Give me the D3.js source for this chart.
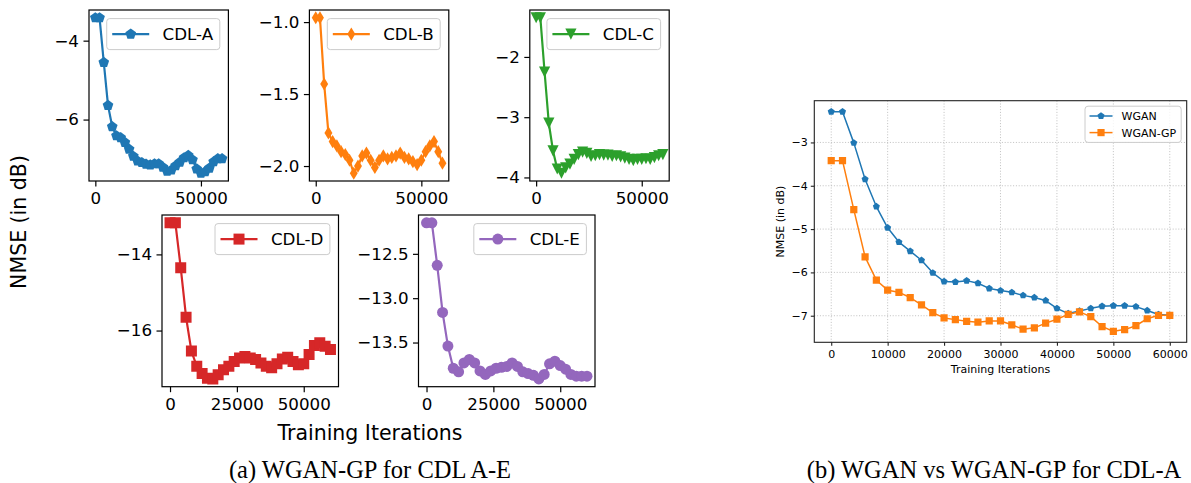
<!DOCTYPE html>
<html>
<head>
<meta charset="utf-8">
<script src="https://cdn.jsdelivr.net/npm/d3@7"></script>
<style>
  body { margin: 0; background: #fff; }
  svg { display: block; }
</style>
</head>
<body>
<svg id="fig" width="1191" height="483"></svg>
<script>
// Training iterations at which NMSE was evaluated
const iterations = [0, 2000, 4000, 6000, 8000, 10000, 12000, 14000, 16000, 18000, 20000,
  22000, 24000, 26000, 28000, 30000, 32000, 34000, 36000, 38000, 40000,
  42000, 44000, 46000, 48000, 50000, 52000, 54000, 56000, 58000, 60000];

// NMSE (dB) of WGAN-GP on each CDL channel model
const cdlA = [-3.42, -3.42, -4.55, -5.64, -6.18, -6.41, -6.46, -6.58, -6.75, -6.93, -7.05,
  -7.09, -7.13, -7.15, -7.12, -7.12, -7.21, -7.31, -7.28, -7.17, -7.08,
  -6.97, -6.91, -7.02, -7.25, -7.36, -7.32, -7.23, -7.07, -6.99, -6.99];
const cdlB = [-0.97, -0.97, -1.43, -1.77, -1.83, -1.86, -1.90, -1.92, -1.96, -2.05, -2.00,
  -1.93, -1.91, -1.96, -2.01, -1.96, -1.93, -1.95, -1.94, -1.93, -1.91,
  -1.94, -1.95, -1.97, -1.99, -1.96, -1.90, -1.86, -1.83, -1.90, -1.98];
const cdlC = [-1.35, -1.35, -2.25, -3.10, -3.56, -3.86, -3.93, -3.84, -3.78, -3.70, -3.62,
  -3.58, -3.60, -3.65, -3.64, -3.62, -3.63, -3.63, -3.65, -3.64, -3.66,
  -3.68, -3.70, -3.72, -3.70, -3.70, -3.69, -3.70, -3.67, -3.64, -3.62];
const cdlD = [-13.17, -13.17, -14.35, -15.65, -16.54, -16.94, -17.13, -17.25, -17.27, -17.16, -17.03,
  -16.94, -16.81, -16.72, -16.68, -16.72, -16.76, -16.85, -16.94, -16.98, -16.87,
  -16.75, -16.70, -16.81, -16.90, -16.87, -16.63, -16.39, -16.32, -16.41, -16.50];
const cdlE = [-12.15, -12.15, -12.63, -13.16, -13.54, -13.79, -13.83, -13.73, -13.69, -13.73, -13.82,
  -13.86, -13.82, -13.79, -13.78, -13.77, -13.73, -13.77, -13.83, -13.85, -13.87,
  -13.91, -13.86, -13.74, -13.71, -13.76, -13.80, -13.86, -13.88, -13.88, -13.88];

// NMSE (dB) on CDL-A: plain WGAN vs WGAN-GP
const wgan = [-2.29, -2.29, -3.01, -3.85, -4.48, -4.97, -5.30, -5.51, -5.72, -6.01, -6.21,
  -6.22, -6.19, -6.25, -6.37, -6.42, -6.46, -6.53, -6.58, -6.65, -6.83,
  -6.95, -6.89, -6.83, -6.78, -6.77, -6.77, -6.79, -6.88, -6.97, -6.99];
const wganGp = cdlA;

// Tick values
const xTicksTop = [0, 50000];
const xTicksBottom = [0, 25000, 50000];
const xTicksWide = [0, 10000, 20000, 30000, 40000, 50000, 60000];
const yTicksA = [-4, -6];
const yTicksB = [-1.0, -1.5, -2.0];
const yTicksC = [-2, -3, -4];
const yTicksD = [-14, -16];
const yTicksE = [-12.5, -13.0, -13.5];
const yTicksWide = [-3, -4, -5, -6, -7];

// Labels
const seriesNames = ["CDL-A", "CDL-B", "CDL-C", "CDL-D", "CDL-E"];
const compareNames = ["WGAN", "WGAN-GP"];
const yLabel = "NMSE (in dB)";
const xLabel = "Training Iterations";
const captionA = "(a) WGAN-GP for CDL A-E";
const captionB = "(b) WGAN vs WGAN-GP for CDL-A";

const FONT = "'DejaVu Sans', sans-serif";
const SERIF = "'Liberation Serif', 'Times New Roman', serif";
const svg = d3.select("#fig");
svg.append("rect").attr("width", 1191).attr("height", 483).attr("fill", "#fff");

// Marker shapes centred on the data point; r is half the marker extent
const markerPath = {
  pentagon: r => {
    const pts = d3.range(5).map(i => {
      const a = -Math.PI / 2 + i * 2 * Math.PI / 5;
      return [r * Math.cos(a), r * Math.sin(a)];
    });
    return "M" + pts.map(p => p.join(",")).join("L") + "Z";
  },
  thinDiamond: r => `M0,${-r}L${r * 0.6},0L0,${r}L${-r * 0.6},0Z`,
  triDown: r => `M0,${r}L${-r},${-r}L${r},${-r}Z`,
  square: r => `M${-r},${-r}H${r}V${r}H${-r}Z`,
  circle: r => `M${r},0A${r},${r} 0 1,1 ${-r},0A${r},${r} 0 1,1 ${r},0Z`
};

let clipId = 0;

function drawPanel(cfg) {
  const g = svg.append("g").attr("transform", `translate(${cfg.x},${cfg.y})`);
  const x = d3.scaleLinear().domain([-3000, 63000]).range([0, cfg.w]);
  const ext = d3.extent(cfg.series.flatMap(s => s.values));
  const pad = (ext[1] - ext[0]) * 0.05;
  const y = d3.scaleLinear().domain([ext[0] - pad, ext[1] + pad]).range([cfg.h, 0]);

  // dotted grid
  if (cfg.grid) {
    const gg = g.append("g");
    cfg.xTicks.forEach(t => gg.append("line")
      .attr("x1", x(t)).attr("x2", x(t)).attr("y1", 0).attr("y2", cfg.h)
      .attr("stroke", "#b0b0b0").attr("stroke-width", 0.8).attr("stroke-dasharray", "1,1.8"));
    cfg.yTicks.forEach(t => gg.append("line")
      .attr("y1", y(t)).attr("y2", y(t)).attr("x1", 0).attr("x2", cfg.w)
      .attr("stroke", "#b0b0b0").attr("stroke-width", 0.8).attr("stroke-dasharray", "1,1.8"));
  }

  const id = "clip" + (clipId++);
  g.append("clipPath").attr("id", id).append("rect").attr("width", cfg.w).attr("height", cfg.h);
  const plot = g.append("g").attr("clip-path", `url(#${id})`);

  cfg.series.forEach(s => {
    const line = d3.line().x((d, i) => x(iterations[i])).y(d => y(d));
    plot.append("path").datum(s.values).attr("d", line)
      .attr("fill", "none").attr("stroke", s.color).attr("stroke-width", cfg.lw)
      .attr("stroke-linejoin", "round");
    plot.append("g").selectAll("path").data(s.values).enter().append("path")
      .attr("transform", (d, i) => `translate(${x(iterations[i])},${y(d)})`)
      .attr("d", markerPath[s.marker](s.ms))
      .attr("fill", s.color);
  });

  // axes
  const xa = g.append("g").attr("transform", `translate(0,${cfg.h})`)
    .call(d3.axisBottom(x).tickValues(cfg.xTicks).tickFormat(d3.format("d"))
      .tickSize(cfg.tick).tickPadding(cfg.padX).tickSizeOuter(0));
  const ya = g.append("g")
    .call(d3.axisLeft(y).tickValues(cfg.yTicks).tickFormat(d3.format(cfg.yFmt))
      .tickSize(cfg.tick).tickPadding(cfg.padY).tickSizeOuter(0));
  [xa, ya].forEach(a => {
    a.select(".domain").remove();
    a.selectAll("line").attr("stroke", cfg.axisColor).attr("stroke-width", cfg.spineW);
    a.selectAll("text").attr("font-family", FONT).attr("font-size", cfg.fs).attr("fill", "#000");
  });

  // spines
  g.append("rect").attr("width", cfg.w).attr("height", cfg.h)
    .attr("fill", "none").attr("stroke", cfg.axisColor).attr("stroke-width", cfg.spineW);

  // legend (upper right)
  const L = cfg.legend;
  const lg = g.append("g");
  const texts = cfg.series.map((s, i) => lg.append("text")
    .attr("font-family", FONT).attr("font-size", L.fs).text(s.name));
  const tw = d3.max(texts, t => t.node().getComputedTextLength());
  const bw = L.padL + L.handle + L.gap + tw + L.padR;
  const bh = L.rowH * cfg.series.length + L.padV * 2;
  const bx = cfg.w - L.inset - bw, by = L.inset;
  lg.insert("rect", "text").attr("x", bx).attr("y", by).attr("width", bw).attr("height", bh)
    .attr("rx", 3).attr("ry", 3)
    .attr("fill", "rgba(255,255,255,0.8)").attr("stroke", "#cccccc").attr("stroke-width", 1);
  cfg.series.forEach((s, i) => {
    const cy = by + L.padV + L.rowH * (i + 0.5);
    const hx = bx + L.padL;
    lg.append("line").attr("x1", hx).attr("x2", hx + L.handle).attr("y1", cy).attr("y2", cy)
      .attr("stroke", s.color).attr("stroke-width", cfg.lw);
    lg.append("path").attr("transform", `translate(${hx + L.handle / 2},${cy})`)
      .attr("d", markerPath[s.marker](s.ms)).attr("fill", s.color);
    texts[i].attr("x", hx + L.handle + L.gap).attr("y", cy).attr("dy", "0.36em").raise();
  });
}

// ----- (a) grid of small panels -----
const smallLegend = { fs: 16.7, padL: 5.5, handle: 37, gap: 13.4, padR: 6.6, padV: 3.5, rowH: 24, inset: 8.6 };
const small = {
  w: 139.4, h: 171, lw: 2.2, fs: 16.7, tick: 5.5, padX: 5.5, padY: 4.5,
  axisColor: "#000", spineW: 1.2, grid: false, legend: smallLegend
};
const tab = { blue: "#1f77b4", orange: "#ff7f0e", green: "#2ca02c", red: "#d62728", purple: "#9467bd" };

drawPanel(Object.assign({}, small, {
  x: 89, y: 10, xTicks: xTicksTop, yTicks: yTicksA, yFmt: "d",
  series: [{ name: seriesNames[0], values: cdlA, color: tab.blue, marker: "pentagon", ms: 5.6 }]
}));
drawPanel(Object.assign({}, small, {
  x: 309.4, y: 10, xTicks: xTicksTop, yTicks: yTicksB, yFmt: ".1f",
  series: [{ name: seriesNames[1], values: cdlB, color: tab.orange, marker: "thinDiamond", ms: 6.6 }]
}));
drawPanel(Object.assign({}, small, {
  x: 529.8, y: 10, xTicks: xTicksTop, yTicks: yTicksC, yFmt: "d",
  series: [{ name: seriesNames[2], values: cdlC, color: tab.green, marker: "triDown", ms: 5.6 }]
}));
drawPanel(Object.assign({}, small, {
  x: 162, y: 215, w: 176.5, h: 171.7, xTicks: xTicksBottom, yTicks: yTicksD, yFmt: "d",
  series: [{ name: seriesNames[3], values: cdlD, color: tab.red, marker: "square", ms: 5.5 }]
}));
drawPanel(Object.assign({}, small, {
  x: 418.5, y: 215, w: 176.5, h: 171.7, xTicks: xTicksBottom, yTicks: yTicksE, yFmt: ".1f",
  series: [{ name: seriesNames[4], values: cdlE, color: tab.purple, marker: "circle", ms: 5.5 }]
}));

svg.append("text").attr("transform", "translate(25.5,222) rotate(-90)")
  .attr("text-anchor", "middle").attr("font-family", FONT).attr("font-size", 20.5).text(yLabel);
svg.append("text").attr("x", 370).attr("y", 440)
  .attr("text-anchor", "middle").attr("font-family", FONT).attr("font-size", 20.5).text(xLabel);

// ----- (b) WGAN vs WGAN-GP -----
drawPanel({
  x: 814.3, y: 100.7, w: 372.4, h: 241.6, lw: 1.5, fs: 11, tick: 3.5, padX: 4.5, padY: 3,
  axisColor: "#222", spineW: 1.1, grid: true,
  xTicks: xTicksWide, yTicks: yTicksWide, yFmt: "d",
  legend: { fs: 11, padL: 4.5, handle: 23, gap: 9, padR: 5, padV: 1.5, rowH: 16.6, inset: 5.5 },
  series: [
    { name: compareNames[0], values: wgan, color: tab.blue, marker: "pentagon", ms: 3.7 },
    { name: compareNames[1], values: wganGp, color: tab.orange, marker: "square", ms: 3.6 }
  ]
});
svg.append("text").attr("transform", "translate(784,221.5) rotate(-90)")
  .attr("text-anchor", "middle").attr("font-family", FONT).attr("font-size", 11).text(yLabel);
svg.append("text").attr("x", 1000.5).attr("y", 373)
  .attr("text-anchor", "middle").attr("font-family", FONT).attr("font-size", 11).text(xLabel);

// ----- captions -----
svg.append("text").attr("x", 370).attr("y", 478).attr("text-anchor", "middle")
  .attr("font-family", SERIF).attr("font-size", 24.5).text(captionA);
svg.append("text").attr("x", 994).attr("y", 478).attr("text-anchor", "middle")
  .attr("font-family", SERIF).attr("font-size", 24.5).text(captionB);
</script>
</body>
</html>
